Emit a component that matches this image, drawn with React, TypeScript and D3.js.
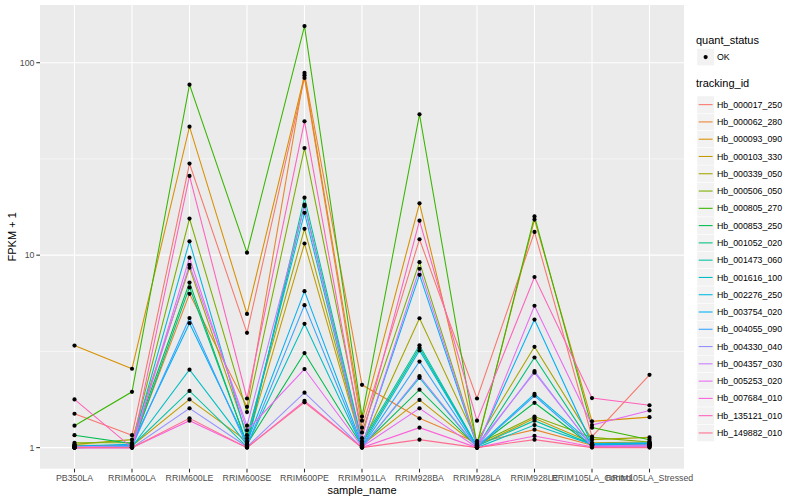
import React from "react";
import * as d3 from "d3";

const samples = ["PB350LA","RRIM600LA","RRIM600LE","RRIM600SE","RRIM600PE","RRIM901LA","RRIM928BA","RRIM928LA","RRIM928LE","RRIM105LA_Control","RRIM105LA_Stressed"];

const trackingIds = ["Hb_000017_250","Hb_000062_280","Hb_000093_090","Hb_000103_330","Hb_000339_050","Hb_000506_050","Hb_000805_270","Hb_000853_250","Hb_001052_020","Hb_001473_060","Hb_001616_100","Hb_002276_250","Hb_003754_020","Hb_004055_090","Hb_004330_040","Hb_004357_030","Hb_005253_020","Hb_007684_010","Hb_135121_010","Hb_149882_010"];

const hb000017 = [1.50, 1.16, 29.9, 3.95, 83.4, 1.27, 12.1, 1.80, 13.2, 1.14, 2.39];
const hb000062 = [1.02, 1.03, 6.3, 1.63, 88.5, 2.12, 1.42, 1.06, 1.24, 1.03, 1.04];
const hb000093 = [3.39, 2.57, 46.5, 4.95, 86.0, 1.38, 18.6, 1.05, 15.3, 1.37, 1.44];
const hb000103 = [1.03, 1.02, 1.78, 1.08, 11.5, 1.03, 1.77, 1.02, 1.42, 1.06, 1.07];
const hb000339 = [1.04, 1.10, 8.6, 1.16, 13.7, 1.04, 4.7, 1.08, 3.34, 1.10, 1.13];
const hb000506 = [1.06, 1.06, 15.5, 1.53, 36.0, 1.20, 9.2, 1.04, 1.45, 1.13, 1.07];
const hb000805 = [1.30, 1.95, 76.9, 10.3, 155, 1.45, 53.9, 1.03, 15.9, 1.27, 1.10];
const hb000853 = [1.16, 1.05, 7.2, 1.04, 3.1, 1.02, 2.0, 1.01, 1.71, 1.02, 1.02];
const hb001052 = [1.01, 1.01, 6.8, 1.05, 18.3, 1.05, 3.3, 1.01, 2.94, 1.03, 1.03];
const hb001473 = [1.01, 1.02, 1.97, 1.01, 19.9, 1.08, 3.4, 1.02, 1.38, 1.04, 1.05];
const hb001616 = [1.0, 1.01, 2.54, 1.03, 4.4, 1.01, 2.3, 1.0, 1.31, 1.04, 1.05];
const hb002276 = [1.0, 1.03, 11.8, 1.12, 16.6, 1.02, 3.2, 1.01, 1.90, 1.05, 1.06];
const hb003754 = [1.02, 1.04, 4.43, 1.06, 6.5, 1.03, 7.9, 1.02, 4.63, 1.04, 1.05];
const hb004055 = [1.0, 1.01, 4.71, 1.02, 5.5, 1.01, 2.8, 1.0, 1.86, 1.02, 1.03];
const hb004330 = [1.0, 1.0, 1.60, 1.01, 1.93, 1.0, 2.35, 1.0, 2.50, 1.01, 1.02];
const hb004357 = [1.01, 1.02, 8.9, 1.30, 18.0, 1.02, 8.5, 1.03, 2.45, 1.02, 1.03];
const hb005253 = [1.0, 1.0, 9.7, 1.23, 2.56, 1.01, 1.6, 1.0, 5.46, 1.31, 1.56];
const hb007684 = [1.0, 1.0, 1.38, 1.0, 1.75, 1.0, 1.27, 1.0, 1.15, 1.01, 1.01];
const hb135121 = [1.78, 1.0, 25.8, 1.80, 49.6, 1.12, 15.1, 1.38, 7.7, 1.81, 1.66];
const hb149882 = [1.0, 1.0, 1.42, 1.0, 1.72, 1.0, 1.1, 1.0, 1.1, 1.0, 1.0];

const seriesValues = [hb000017, hb000062, hb000093, hb000103, hb000339, hb000506, hb000805, hb000853, hb001052, hb001473, hb001616, hb002276, hb003754, hb004055, hb004330, hb004357, hb005253, hb007684, hb135121, hb149882];

const palette = ["#F8766D","#EA8331","#D89000","#C09B00","#A3A500","#7CAE00","#39B600","#00BB4E","#00BF7D","#00C1A3","#00BFC4","#00BAE0","#00B0F6","#35A2FF","#9590FF","#C77CFF","#E76BF3","#FA62DB","#FF62BC","#FF6C91"];

const yTicks = [1, 10, 100];
const yMinor = [Math.sqrt(10), Math.sqrt(1000)];

export default function App() {
  const W = 800, H = 500;
  const pl = 40, pr = 684, pt = 5, pb = 468.7;
  const font = "'Liberation Sans', Arial, sans-serif";

  const x = d3.scalePoint<string>().domain(samples).range([pl, pr]).padding(0.6);
  const all = seriesValues.flat();
  const lo = Math.log10(d3.min(all) as number);
  const hi = Math.log10(d3.max(all) as number);
  const ex = (hi - lo) * 0.05;
  const y = d3.scaleLog().domain([Math.pow(10, lo - ex), Math.pow(10, hi + ex)]).range([pb, pt]);

  const line = d3.line<number>().x((_, i) => x(samples[i]) as number).y(d => y(d));

  const legX = 697;
  const keyH = 17.28;
  const keyTop = 96;

  return (
    <svg width={W} height={H} style={{ position: "absolute", left: 0, top: 0, background: "#fff" }} fontFamily={font}>
      <rect x={pl} y={pt} width={pr - pl} height={pb - pt} fill="#EBEBEB" />
      {yMinor.map((v, i) => (
        <line key={"mn" + i} x1={pl} x2={pr} y1={y(v)} y2={y(v)} stroke="#fff" strokeWidth={0.55} />
      ))}
      {yTicks.map((v, i) => (
        <line key={"mj" + i} x1={pl} x2={pr} y1={y(v)} y2={y(v)} stroke="#fff" strokeWidth={1.1} />
      ))}
      {samples.map((s) => (
        <line key={"vx" + s} x1={x(s)} x2={x(s)} y1={pt} y2={pb} stroke="#fff" strokeWidth={1.1} />
      ))}
      {seriesValues.map((vals, i) => (
        <path key={"ln" + i} d={line(vals) as string} fill="none" stroke={palette[i]} strokeWidth={1.07} />
      ))}
      {seriesValues.map((vals, i) =>
        vals.map((v, j) => (
          <circle key={"pt" + i + "-" + j} cx={x(samples[j])} cy={y(v)} r={2.1} fill="#000" />
        ))
      )}
      {/* y axis */}
      {yTicks.map((v, i) => (
        <g key={"yt" + i}>
          <line x1={pl - 3.7} x2={pl} y1={y(v)} y2={y(v)} stroke="#333" strokeWidth={1.07} />
          <text x={pl - 5.5} y={y(v)} dy="0.35em" textAnchor="end" fontSize={8.8} fill="#4D4D4D">{v}</text>
        </g>
      ))}
      {/* x axis */}
      {samples.map((s) => (
        <g key={"xt" + s}>
          <line x1={x(s)} x2={x(s)} y1={pb} y2={pb + 3.7} stroke="#333" strokeWidth={1.07} />
          <text x={x(s)} y={pb + 12.3} textAnchor="middle" fontSize={8.8} fill="#4D4D4D">{s}</text>
        </g>
      ))}
      <text x={(pl + pr) / 2} y={494} textAnchor="middle" fontSize={11} fill="#000">sample_name</text>
      <text transform={`translate(16, ${(pt + pb) / 2}) rotate(-90)`} textAnchor="middle" fontSize={11} fill="#000">FPKM + 1</text>
      {/* legend: quant_status */}
      <text x={legX - 1} y={44} fontSize={11} fill="#000">quant_status</text>
      <rect x={legX} y={48.5} width={17.28} height={17.28} fill="#F2F2F2" stroke="#fff" strokeWidth={0.5} />
      <circle cx={legX + 8.64} cy={57.1} r={2.1} fill="#000" />
      <text x={legX + 20} y={57.1} dy="0.35em" fontSize={8.8} fill="#000">OK</text>
      {/* legend: tracking_id */}
      <text x={legX - 1} y={87} fontSize={11} fill="#000">tracking_id</text>
      {trackingIds.map((id, i) => {
        const ky = keyTop + i * keyH;
        return (
          <g key={"lg" + id}>
            <rect x={legX} y={ky} width={17.28} height={keyH} fill="#F2F2F2" stroke="#fff" strokeWidth={0.5} />
            <line x1={legX + 1.7} x2={legX + 15.6} y1={ky + keyH / 2} y2={ky + keyH / 2} stroke={palette[i]} strokeWidth={1.07} />
            <text x={legX + 20} y={ky + keyH / 2} dy="0.35em" fontSize={8.8} fill="#000">{id}</text>
          </g>
        );
      })}
    </svg>
  );
}
